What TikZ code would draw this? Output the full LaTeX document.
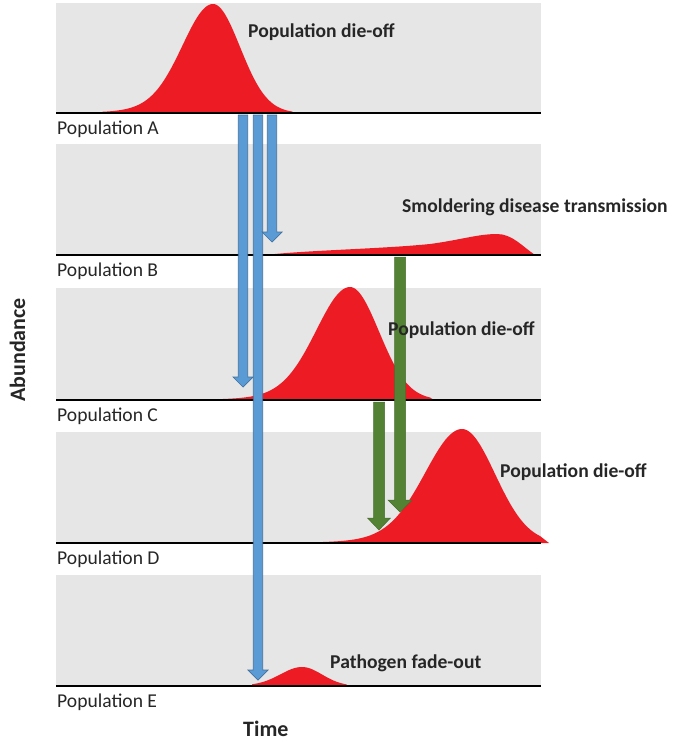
\documentclass[tikz,border=0pt]{standalone}
\usepackage{fontspec}
\setmainfont{Carlito}
\usetikzlibrary{calc}
\definecolor{panelgrey}{HTML}{E6E6E6}
\definecolor{dieoffred}{HTML}{ED1C24}
\definecolor{flowblue}{HTML}{5B9BD5}
\definecolor{flowblueedge}{HTML}{41719C}
\definecolor{flowgreen}{HTML}{548235}
\definecolor{labelgrey}{HTML}{262626}

\begin{document}
\begin{tikzpicture}[
    x=1pt, y=-1pt,
    declare function={fall(\u,\m,\w)=exp(-((\u-\m)/\w)^2/2);
                      rise(\u,\m,\w)=0.8*fall(\u,\m,\w)+0.2/(cosh((\u-\m)/(1.7*\w)))^2;},
    panel/.style={fill=panelgrey},
    axisline/.style={draw=black, line width=2.6pt},
    dieoff/.style={fill=dieoffred},
    poplabel/.style={anchor=base west, inner sep=0pt, text=labelgrey,
                     font=\fontsize{19.6}{23}\selectfont},
    event/.style={anchor=base west, inner sep=0pt, text=labelgrey,
                  font=\fontsize{19.6}{23}\selectfont\bfseries},
    axislabel/.style={inner sep=0pt, text=labelgrey,
                      font=\fontsize{22}{26}\selectfont\bfseries},
    flow/.style n args={3}{to path={let \p1=(\tikztostart), \p2=(\tikztotarget) in
        (\x1-#1,\y1) -- (\x1-#1,\y2+#3) -- (\x1-#2,\y2+#3) -- (\x2,\y2)
        -- (\x1+#2,\y2+#3) -- (\x1+#1,\y2+#3) -- (\x1+#1,\y1) -- cycle}},
    blueflow/.style={fill=flowblue, draw=flowblueedge, line width=0.7pt,
                     flow={4.7pt}{10pt}{10pt}},
    greenflow/.style={fill=flowgreen, draw=flowgreen!85!black, line width=0.5pt,
                      flow={5.5pt}{12pt}{12pt}},
]
\useasboundingbox (0,0) rectangle (675,742);

% --- grey panels ---
\foreach \p/\top/\base in {A/3/113, B/144/255, C/288/400, D/432/543, E/575/686}{
  \fill[panel] (56,\top) rectangle (541,\base);
}

% --- abundance curves ---
\fill[dieoff] (102,113) -- plot[domain=102:213, samples=60] (\x,{113-109*rise(\x,213,30)})
  -- plot[domain=213:292, samples=40] (\x,{113-109*fall(\x,213,27)}) -- (294,113) -- cycle;
\fill[dieoff] (265,255) .. controls (310,250) and (380,249) .. (430,244)
  .. controls (460,240) and (478,234) .. (497,234)
  .. controls (512,234) and (522,246) .. (535,255) -- cycle;
\fill[dieoff] (208,400) -- plot[domain=208:350, samples=60] (\x,{400-113*rise(\x,350,33)})
  -- plot[domain=350:430, samples=40] (\x,{400-113*fall(\x,350,29)}) -- (434,400) -- cycle;
\fill[dieoff] (320,543) -- plot[domain=320:462, samples=60] (\x,{543-114*rise(\x,462,36)})
  -- plot[domain=462:540, samples=40] (\x,{543-114*fall(\x,462,33)}) -- (549,543) -- cycle;
\fill[dieoff] (252,686) -- plot[domain=252:302, samples=30] (\x,{686-19*rise(\x,302,21)})
  -- plot[domain=302:346, samples=30] (\x,{686-19*fall(\x,302,20)}) -- (349,686) -- cycle;

% --- time axes and population labels ---
\foreach \p/\base in {A/113, B/255, C/400, D/543, E/686}{
  \draw[axisline] (56,\base) -- (541,\base);
  \node[poplabel] (pop\p) at (57,\base+21) {Population \p};
}

% --- transmission arrows ---
\coordinate (a1) at (243,115); \coordinate (c1) at (243,387);
\coordinate (a2) at (258,115); \coordinate (e2) at (258,680);
\coordinate (a3) at (272,115); \coordinate (b3) at (272,242);
\coordinate (b4) at (400,257); \coordinate (d4) at (400,512);
\coordinate (c5) at (379,402); \coordinate (d5) at (379,530);

\draw[blueflow] (a1) to (c1);
\draw[blueflow] (a2) to (e2);
\draw[blueflow] (a3) to (b3);
\draw[greenflow] (b4) to (d4);
\draw[greenflow, flow={5.5pt}{11.5pt}{12pt}] (c5) to (d5);

% --- event labels ---
\node[event] (dieA) at (248,37) {Population die-off};
\node[event] (smolderB) at (402,212) {Smoldering disease transmission};
\node[event] (dieC) at (388,335) {Population die-off};
\node[event] (dieD) at (500,477) {Population die-off};
\node[event] (fadeE) at (330,668) {Pathogen fade-out};

% --- axis labels ---
\node[axislabel, anchor=base west] (time) at (243,736) {Time};
\node[axislabel, anchor=base, rotate=90] (abundance) at (25,350) {Abundance};

\end{tikzpicture}
\end{document}
